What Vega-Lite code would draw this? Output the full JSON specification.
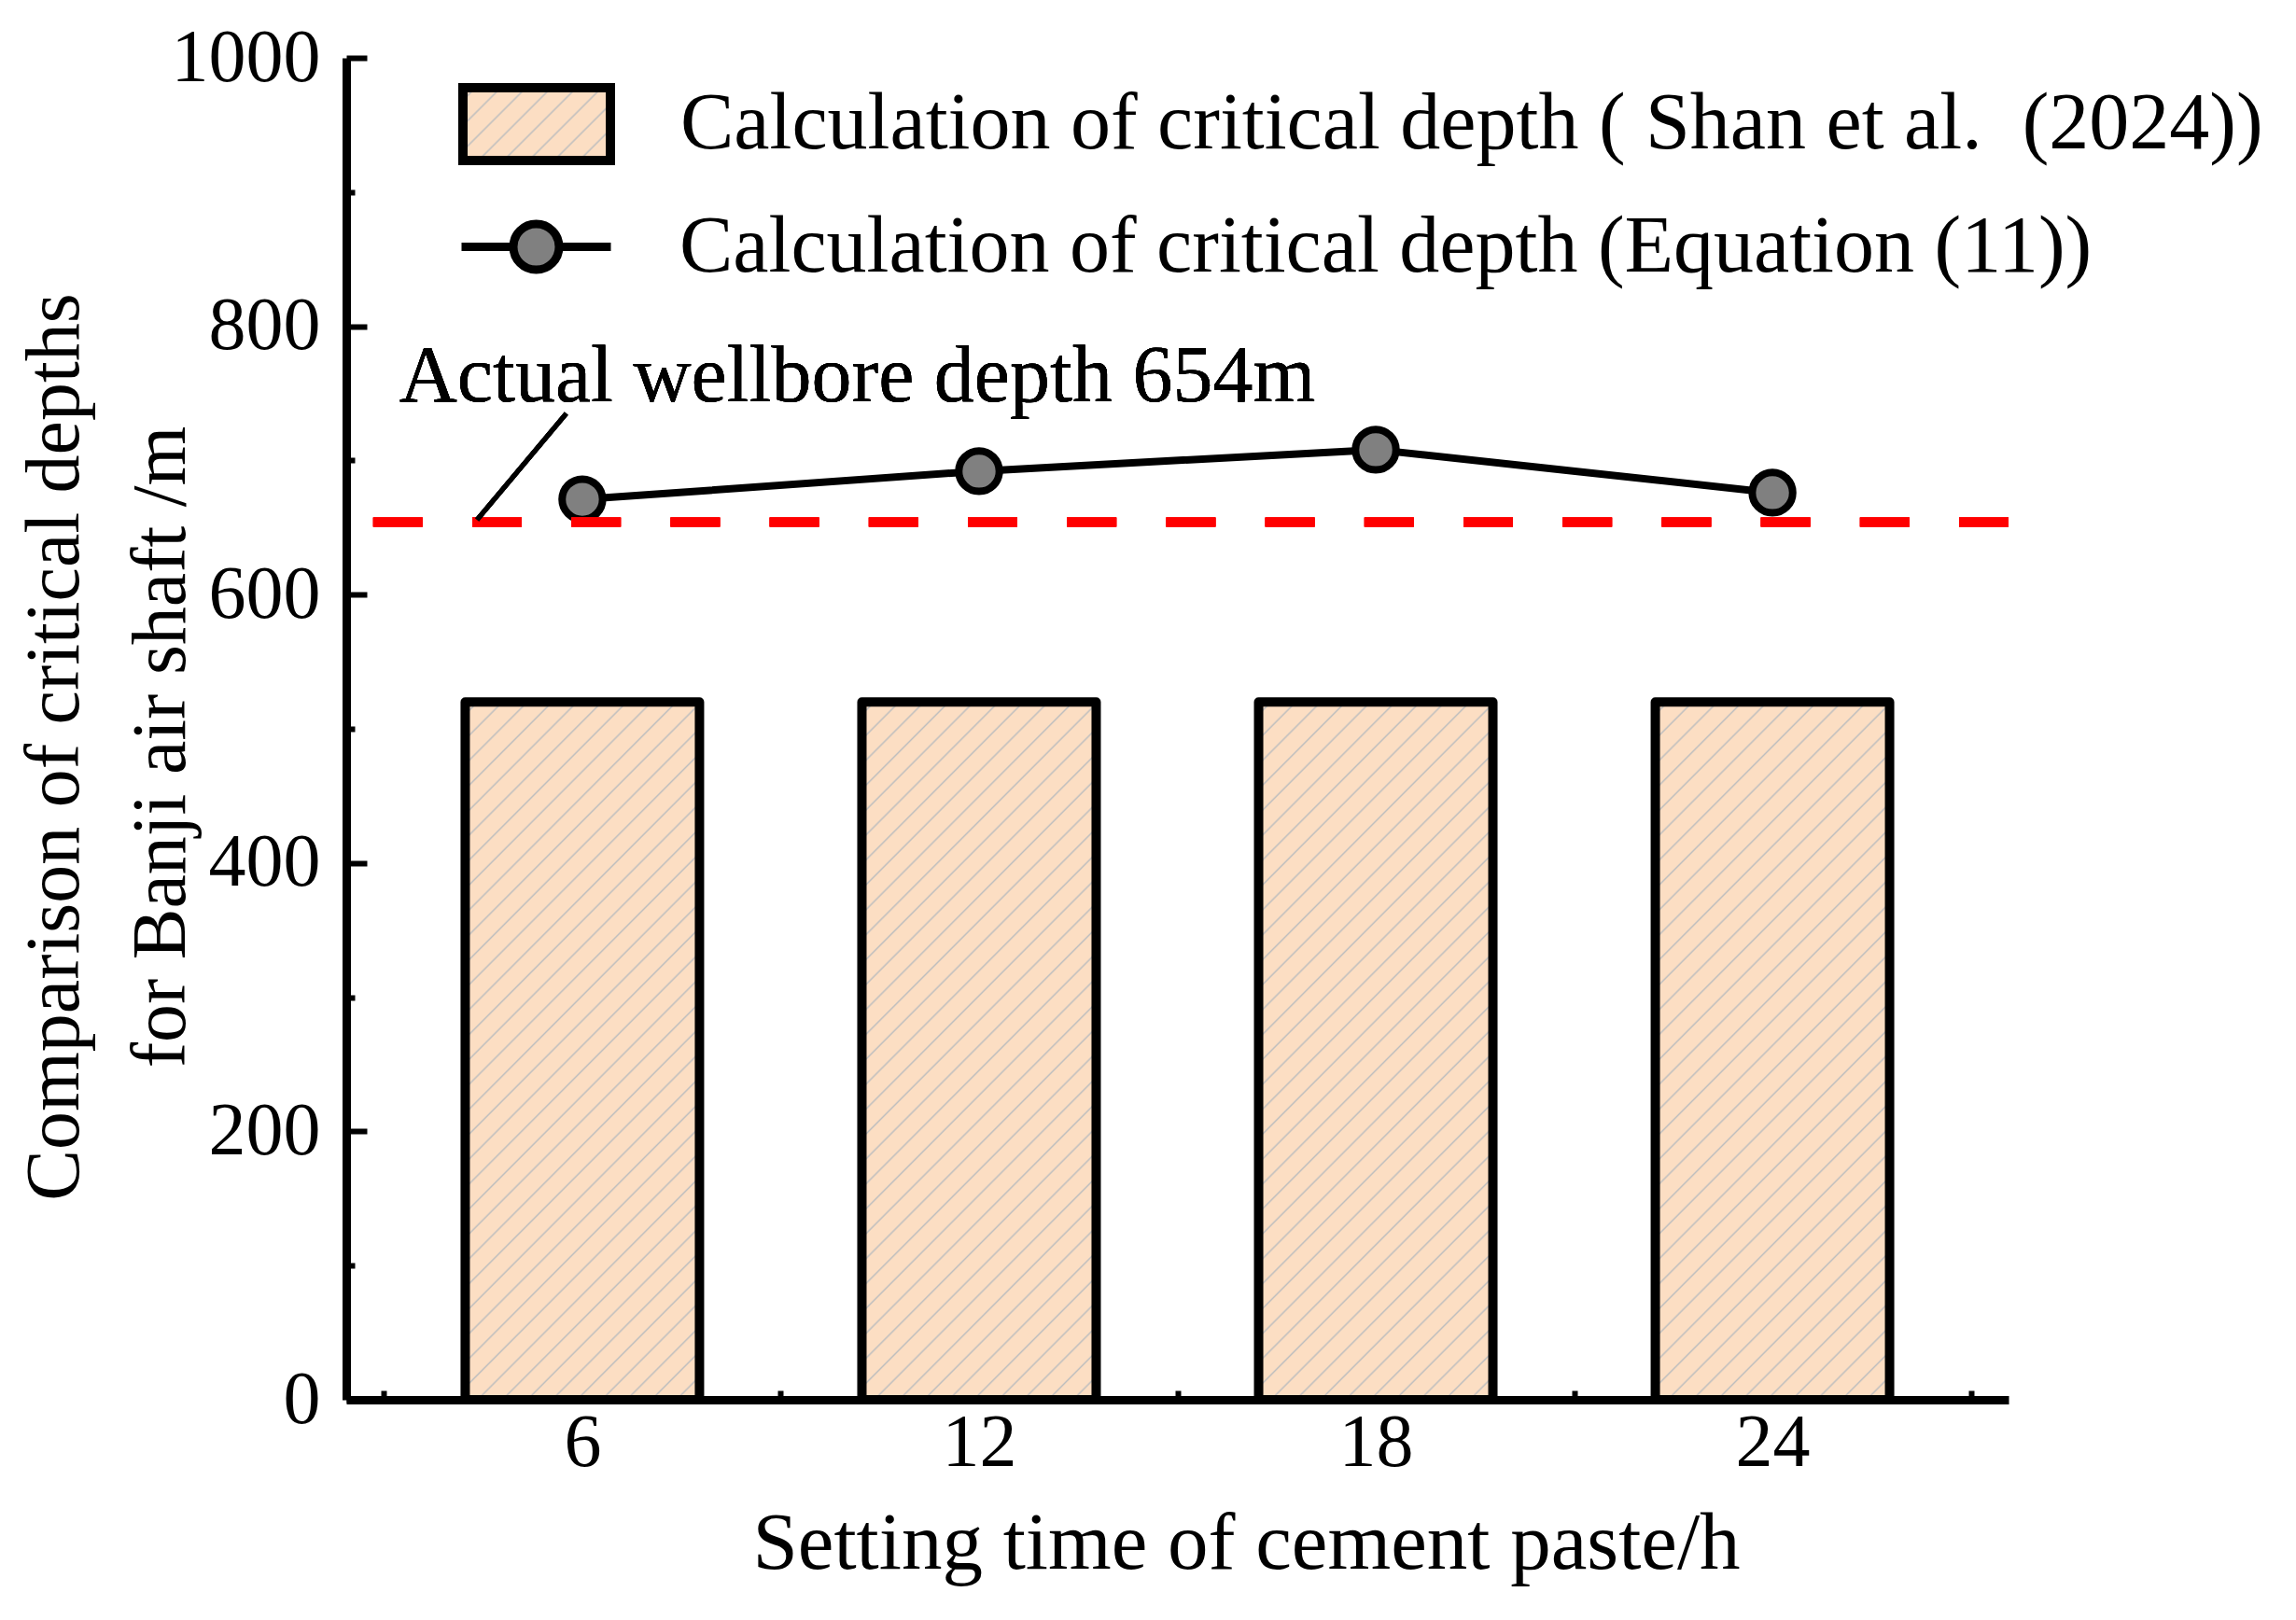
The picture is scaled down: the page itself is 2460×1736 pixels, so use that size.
{
  "$schema": "https://vega.github.io/schema/vega-lite/v6.json",
  "width": 1781,
  "height": 1438,
  "autosize": {"type": "none"},
  "padding": {"left": 371, "top": 62, "right": 308, "bottom": 236},
  "background": "white",
  "config": {
    "view": {"stroke": null},
    "font": "Liberation Serif",
    "axis": {
      "domainColor": "black", "domainWidth": 9, "tickColor": "black", "tickWidth": 6,
      "labelColor": "black", "titleColor": "black", "labelFont": "Liberation Serif", "titleFont": "Liberation Serif",
      "labelFontSize": 80, "titleFontSize": 82, "titleFontWeight": "normal", "grid": false,
      "labelFlush": false, "labelOverlap": false, "labelLimit": 1000
    },
    "legend": {
      "labelFont": "Liberation Serif", "labelFontSize": 86, "labelColor": "black", "labelLimit": 3000,
      "padding": 0, "symbolSize": 10000, "labelOffset": 99
    }
  },
  "data": {"values": [
    {"t": 6, "shan": 520, "eq": 671},
    {"t": 12, "shan": 520, "eq": 692},
    {"t": 18, "shan": 520, "eq": 708},
    {"t": 24, "shan": 520, "eq": 676}
  ]},
  "layer": [
    {
      "mark": {
        "type": "point", "shape": "M-1.58,-0.78H1.58V0.78H-1.58Z", "filled": true, "size": 0,
        "strokeWidth": 10, "strokeJoin": "round", "opacity": 1,
        "fill": {"gradient": "linear", "x1": 0, "y1": 0, "x2": 1.375, "y2": 0.679, "stops": [
          {"offset": 0, "color": "#FCDEC3"},
          {"offset": 0.042, "color": "#FCDEC3"}, {"offset": 0.05, "color": "#BEBEBE"}, {"offset": 0.058, "color": "#FCDEC3"},
          {"offset": 0.142, "color": "#FCDEC3"}, {"offset": 0.15, "color": "#BEBEBE"}, {"offset": 0.158, "color": "#FCDEC3"},
          {"offset": 0.242, "color": "#FCDEC3"}, {"offset": 0.25, "color": "#BEBEBE"}, {"offset": 0.258, "color": "#FCDEC3"},
          {"offset": 0.342, "color": "#FCDEC3"}, {"offset": 0.35, "color": "#BEBEBE"}, {"offset": 0.358, "color": "#FCDEC3"},
          {"offset": 0.442, "color": "#FCDEC3"}, {"offset": 0.45, "color": "#BEBEBE"}, {"offset": 0.458, "color": "#FCDEC3"},
          {"offset": 0.542, "color": "#FCDEC3"}, {"offset": 0.55, "color": "#BEBEBE"}, {"offset": 0.558, "color": "#FCDEC3"},
          {"offset": 0.642, "color": "#FCDEC3"}, {"offset": 0.65, "color": "#BEBEBE"}, {"offset": 0.658, "color": "#FCDEC3"},
          {"offset": 0.742, "color": "#FCDEC3"}, {"offset": 0.75, "color": "#BEBEBE"}, {"offset": 0.758, "color": "#FCDEC3"},
          {"offset": 0.842, "color": "#FCDEC3"}, {"offset": 0.85, "color": "#BEBEBE"}, {"offset": 0.858, "color": "#FCDEC3"},
          {"offset": 0.942, "color": "#FCDEC3"}, {"offset": 0.95, "color": "#BEBEBE"}, {"offset": 0.958, "color": "#FCDEC3"},
          {"offset": 1, "color": "#FCDEC3"}
        ]}
      },
      "encoding": {
        "x": {"datum": 6, "type": "quantitative"},
        "y": {"datum": 100, "type": "quantitative"},
        "stroke": {
          "datum": "Calculation of critical depth ( Shan et al.\u00a0 (2024))",
          "type": "nominal",
          "scale": {"domain": ["Calculation of critical depth ( Shan et al.\u00a0 (2024))"], "range": ["black"]},
          "legend": {
            "orient": "none", "legendX": 149, "legendY": 16, "title": null,
            "symbolType": "M-1.58,-0.78H1.58V0.78H-1.58Z", "symbolStrokeWidth": 10, "symbolSize": 10000
          }
        }
      }
    },
    {
      "mark": {
        "type": "bar", "width": 251, "stroke": "black", "strokeWidth": 10, "strokeJoin": "round",
        "fill": {"gradient": "linear", "x1": 0, "y1": 0, "x2": 0.432, "y2": 1.283, "stops": [
          {"offset": 0, "color": "#FCDEC3"},
          {"offset": 0.0105, "color": "#FCDEC3"}, {"offset": 0.0125, "color": "#BEBEBE"}, {"offset": 0.0145, "color": "#FCDEC3"},
          {"offset": 0.0355, "color": "#FCDEC3"}, {"offset": 0.0375, "color": "#BEBEBE"}, {"offset": 0.0395, "color": "#FCDEC3"},
          {"offset": 0.0605, "color": "#FCDEC3"}, {"offset": 0.0625, "color": "#BEBEBE"}, {"offset": 0.0645, "color": "#FCDEC3"},
          {"offset": 0.0855, "color": "#FCDEC3"}, {"offset": 0.0875, "color": "#BEBEBE"}, {"offset": 0.0895, "color": "#FCDEC3"},
          {"offset": 0.1105, "color": "#FCDEC3"}, {"offset": 0.1125, "color": "#BEBEBE"}, {"offset": 0.1145, "color": "#FCDEC3"},
          {"offset": 0.1355, "color": "#FCDEC3"}, {"offset": 0.1375, "color": "#BEBEBE"}, {"offset": 0.1395, "color": "#FCDEC3"},
          {"offset": 0.1605, "color": "#FCDEC3"}, {"offset": 0.1625, "color": "#BEBEBE"}, {"offset": 0.1645, "color": "#FCDEC3"},
          {"offset": 0.1855, "color": "#FCDEC3"}, {"offset": 0.1875, "color": "#BEBEBE"}, {"offset": 0.1895, "color": "#FCDEC3"},
          {"offset": 0.2105, "color": "#FCDEC3"}, {"offset": 0.2125, "color": "#BEBEBE"}, {"offset": 0.2145, "color": "#FCDEC3"},
          {"offset": 0.2355, "color": "#FCDEC3"}, {"offset": 0.2375, "color": "#BEBEBE"}, {"offset": 0.2395, "color": "#FCDEC3"},
          {"offset": 0.2605, "color": "#FCDEC3"}, {"offset": 0.2625, "color": "#BEBEBE"}, {"offset": 0.2645, "color": "#FCDEC3"},
          {"offset": 0.2855, "color": "#FCDEC3"}, {"offset": 0.2875, "color": "#BEBEBE"}, {"offset": 0.2895, "color": "#FCDEC3"},
          {"offset": 0.3105, "color": "#FCDEC3"}, {"offset": 0.3125, "color": "#BEBEBE"}, {"offset": 0.3145, "color": "#FCDEC3"},
          {"offset": 0.3355, "color": "#FCDEC3"}, {"offset": 0.3375, "color": "#BEBEBE"}, {"offset": 0.3395, "color": "#FCDEC3"},
          {"offset": 0.3605, "color": "#FCDEC3"}, {"offset": 0.3625, "color": "#BEBEBE"}, {"offset": 0.3645, "color": "#FCDEC3"},
          {"offset": 0.3855, "color": "#FCDEC3"}, {"offset": 0.3875, "color": "#BEBEBE"}, {"offset": 0.3895, "color": "#FCDEC3"},
          {"offset": 0.4105, "color": "#FCDEC3"}, {"offset": 0.4125, "color": "#BEBEBE"}, {"offset": 0.4145, "color": "#FCDEC3"},
          {"offset": 0.4355, "color": "#FCDEC3"}, {"offset": 0.4375, "color": "#BEBEBE"}, {"offset": 0.4395, "color": "#FCDEC3"},
          {"offset": 0.4605, "color": "#FCDEC3"}, {"offset": 0.4625, "color": "#BEBEBE"}, {"offset": 0.4645, "color": "#FCDEC3"},
          {"offset": 0.4855, "color": "#FCDEC3"}, {"offset": 0.4875, "color": "#BEBEBE"}, {"offset": 0.4895, "color": "#FCDEC3"},
          {"offset": 0.5105, "color": "#FCDEC3"}, {"offset": 0.5125, "color": "#BEBEBE"}, {"offset": 0.5145, "color": "#FCDEC3"},
          {"offset": 0.5355, "color": "#FCDEC3"}, {"offset": 0.5375, "color": "#BEBEBE"}, {"offset": 0.5395, "color": "#FCDEC3"},
          {"offset": 0.5605, "color": "#FCDEC3"}, {"offset": 0.5625, "color": "#BEBEBE"}, {"offset": 0.5645, "color": "#FCDEC3"},
          {"offset": 0.5855, "color": "#FCDEC3"}, {"offset": 0.5875, "color": "#BEBEBE"}, {"offset": 0.5895, "color": "#FCDEC3"},
          {"offset": 0.6105, "color": "#FCDEC3"}, {"offset": 0.6125, "color": "#BEBEBE"}, {"offset": 0.6145, "color": "#FCDEC3"},
          {"offset": 0.6355, "color": "#FCDEC3"}, {"offset": 0.6375, "color": "#BEBEBE"}, {"offset": 0.6395, "color": "#FCDEC3"},
          {"offset": 0.6605, "color": "#FCDEC3"}, {"offset": 0.6625, "color": "#BEBEBE"}, {"offset": 0.6645, "color": "#FCDEC3"},
          {"offset": 0.6855, "color": "#FCDEC3"}, {"offset": 0.6875, "color": "#BEBEBE"}, {"offset": 0.6895, "color": "#FCDEC3"},
          {"offset": 0.7105, "color": "#FCDEC3"}, {"offset": 0.7125, "color": "#BEBEBE"}, {"offset": 0.7145, "color": "#FCDEC3"},
          {"offset": 0.7355, "color": "#FCDEC3"}, {"offset": 0.7375, "color": "#BEBEBE"}, {"offset": 0.7395, "color": "#FCDEC3"},
          {"offset": 0.7605, "color": "#FCDEC3"}, {"offset": 0.7625, "color": "#BEBEBE"}, {"offset": 0.7645, "color": "#FCDEC3"},
          {"offset": 0.7855, "color": "#FCDEC3"}, {"offset": 0.7875, "color": "#BEBEBE"}, {"offset": 0.7895, "color": "#FCDEC3"},
          {"offset": 0.8105, "color": "#FCDEC3"}, {"offset": 0.8125, "color": "#BEBEBE"}, {"offset": 0.8145, "color": "#FCDEC3"},
          {"offset": 0.8355, "color": "#FCDEC3"}, {"offset": 0.8375, "color": "#BEBEBE"}, {"offset": 0.8395, "color": "#FCDEC3"},
          {"offset": 0.8605, "color": "#FCDEC3"}, {"offset": 0.8625, "color": "#BEBEBE"}, {"offset": 0.8645, "color": "#FCDEC3"},
          {"offset": 0.8855, "color": "#FCDEC3"}, {"offset": 0.8875, "color": "#BEBEBE"}, {"offset": 0.8895, "color": "#FCDEC3"},
          {"offset": 0.9105, "color": "#FCDEC3"}, {"offset": 0.9125, "color": "#BEBEBE"}, {"offset": 0.9145, "color": "#FCDEC3"},
          {"offset": 0.9355, "color": "#FCDEC3"}, {"offset": 0.9375, "color": "#BEBEBE"}, {"offset": 0.9395, "color": "#FCDEC3"},
          {"offset": 1, "color": "#FCDEC3"}
        ]}
      },
      "encoding": {
        "x": {"field": "t", "type": "quantitative",
          "scale": {"domain": [2.5, 27.5], "nice": false, "zero": false},
          "axis": {
            "values": [3, 6, 9, 12, 15, 18, 21, 24, 27],
            "format": "d",
            "labelExpr": "datum.value % 6 === 0 ? datum.label : ''",
            "tickSize": {"condition": {"test": "datum.value % 6 === 0", "value": -23}, "value": -10},
            "labelPadding": 30,
            "title": "Setting time of cement paste/h",
            "titleFontSize": 87,
            "titleX": 964, "titleY": 180, "titleBaseline": "alphabetic", "titleAlign": "center"
          }
        },
        "y": {"field": "shan", "type": "quantitative",
          "scale": {"domain": [0, 1000], "nice": false},
          "axis": {
            "values": [0, 100, 200, 300, 400, 500, 600, 700, 800, 900, 1000],
            "format": "d",
            "labelExpr": "datum.value % 200 === 0 ? datum.label : ''",
            "tickSize": {"condition": {"test": "datum.value % 200 === 0", "value": -22}, "value": -9},
            "labelPadding": 50,
            "title": ["Comparison of critical depths", "for Banji air shaft /m"],
            "titleLineHeight": 114,
            "titleX": -288, "titleY": 738, "titleAngle": -90, "titleBaseline": "alphabetic", "titleAlign": "center"
          }
        }
      }
    },
    {
      "mark": {"type": "line", "stroke": "black", "strokeWidth": 8},
      "encoding": {
        "x": {"field": "t", "type": "quantitative"},
        "y": {"field": "eq", "type": "quantitative"}
      }
    },
    {
      "mark": {"type": "point", "shape": "circle", "filled": true, "size": 1885, "stroke": "black", "strokeWidth": 8, "opacity": 1},
      "encoding": {
        "x": {"field": "t", "type": "quantitative"},
        "y": {"field": "eq", "type": "quantitative"},
        "fill": {
          "datum": "Calculation of critical depth (Equation (11))",
          "type": "nominal",
          "scale": {"domain": ["Calculation of critical depth (Equation (11))"], "range": ["#808080"]},
          "legend": {
            "orient": "none", "legendX": 149, "legendY": 148, "title": null,
            "symbolType": "M-1.6,0H-0.49M0.49,0H1.6M0.49,0A0.49,0.49 0 1 1 -0.49,0A0.49,0.49 0 1 1 0.49,0Z",
            "symbolStrokeColor": "black", "symbolStrokeWidth": 9, "symbolSize": 10000
          }
        }
      }
    },
    {
      "mark": {"type": "rule", "color": "#FF0000", "strokeWidth": 10, "strokeDash": [53, 53.2]},
      "encoding": {"y": {"datum": 654, "type": "quantitative"}}
    },
    {
      "mark": {"type": "rule", "color": "black", "strokeWidth": 5},
      "encoding": {
        "x": {"datum": 5.757, "type": "quantitative"},
        "y": {"datum": 735, "type": "quantitative"},
        "x2": {"datum": 4.409},
        "y2": {"datum": 655.8}
      }
    },
    {
      "mark": {"type": "text", "align": "left", "baseline": "alphabetic", "fontSize": 86, "font": "Liberation Serif", "color": "black"},
      "encoding": {
        "x": {"datum": 3.23, "type": "quantitative"},
        "y": {"datum": 744, "type": "quantitative"},
        "text": {"value": "Actual wellbore depth 654m"}
      }
    }
  ]
}
